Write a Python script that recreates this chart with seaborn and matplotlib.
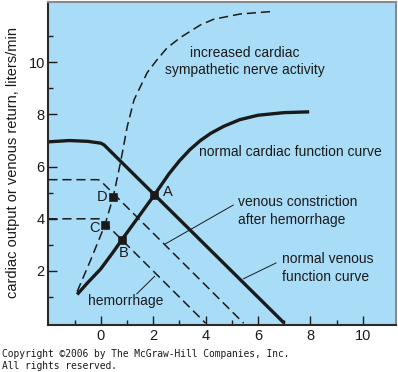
import matplotlib
matplotlib.use("Agg")
import matplotlib.pyplot as plt
import seaborn as sns
import pandas as pd

# ---------------- data ----------------
cardiac_x = [-0.9, -0.5, 0.0, 0.5, 0.8, 1.4, 2.05, 2.6, 3.0, 3.4, 3.8, 4.2, 4.7, 5.3, 6.0, 7.0, 7.95]
cardiac_y = [1.1, 1.55, 2.08, 2.76, 3.19, 4.02, 4.92, 5.72, 6.22, 6.65, 7.0, 7.28, 7.55, 7.8, 7.97, 8.07, 8.1]

symp_x = [-0.9, -0.38, 0.16, 0.48, 0.76, 1.01, 1.27, 1.77, 2.15, 2.53, 3.04, 3.8, 4.31, 5.32, 6.46]
symp_y = [1.21, 2.43, 3.77, 4.85, 6.19, 7.53, 8.56, 9.6, 10.1, 10.55, 10.95, 11.43, 11.65, 11.85, 11.94]

venous_x = [-2.0, -1.2, -0.5, 0.0, 0.13, 7.0]
venous_y = [6.95, 7.0, 6.97, 6.9, 6.83, 0.0]

hem_x = [-2.0, 0.0, 4.0]
hem_y = [4.0, 4.0, 0.0]

constr_x = [-2.0, -0.1, 0.0, 5.45]
constr_y = [5.5, 5.5, 5.45, 0.0]

point_names = ["A", "B", "C", "D"]
point_x = [2.05, 0.8, 0.16, 0.48]
point_y = [4.92, 3.19, 3.77, 4.85]

x_ticks = [0, 2, 4, 6, 8, 10]
y_ticks = [2, 4, 6, 8, 10]

ylabel = "cardiac output or venous return, liters/min"
copyright1 = "Copyright \u00a92006 by The McGraw-Hill Companies, Inc."
copyright2 = "All rights reserved."

# ---------------- style ----------------
sns.set_style("ticks")
plt.rcParams["font.family"] = ["Liberation Sans", "DejaVu Sans"]

W, H = 398, 372
fig = plt.figure(figsize=(W / 100, H / 100), dpi=100)
ax = fig.add_axes([48.3 / W, 1 - 325 / H, (395.7 - 48.3) / W, (325 - 2) / H])
ax.set_facecolor("#a9ddf7")

ink = "#1a1a1a"
thick = 2.4
thin = 1.1
dash = (0, (6, 3.2))

def line(xs, ys, lw, ls):
    df = pd.DataFrame({"x": xs, "y": ys})
    sns.lineplot(data=df, x="x", y="y", ax=ax, sort=False, estimator=None,
                 color=ink, linewidth=lw, linestyle=ls,
                 solid_capstyle="butt", dash_capstyle="butt",
                 solid_joinstyle="round")

line(venous_x, venous_y, thick, "-")
line(cardiac_x, cardiac_y, thick, "-")
line(symp_x, symp_y, thin, dash)
line(hem_x, hem_y, thin, dash)
line(constr_x, constr_y, thin, dash)

pts = pd.DataFrame({"x": point_x, "y": point_y, "name": point_names})
sns.scatterplot(data=pts, x="x", y="y", ax=ax, marker="s", s=32,
                color=ink, edgecolor=ink, zorder=5)

lab_off = {"A": (0.5, 0.1), "B": (0.07, -0.5), "C": (-0.39, -0.12), "D": (-0.44, -0.01)}
for n, px, py in zip(point_names, point_x, point_y):
    dx, dy = lab_off[n]
    ax.text(px + dx, py + dy, n, ha="center", va="center", fontsize=10.5, color=ink)

# annotations
fs = 10
ls_ = 1.35
ax.text(5.48, 10.03, "increased cardiac\nsympathetic nerve activity", ha="center",
        va="center", fontsize=fs, color=ink, linespacing=ls_)
ax.text(3.73, 6.56, "normal cardiac function curve", ha="left", va="center",
        fontsize=fs, color=ink)
ax.text(5.25, 4.30, "venous constriction\nafter hemorrhage", ha="left", va="center",
        fontsize=fs, color=ink, linespacing=ls_)
ax.text(6.92, 2.10, "normal venous\nfunction curve", ha="left", va="center",
        fontsize=fs, color=ink, linespacing=ls_)
ax.text(0.95, 0.85, "hemorrhage", ha="center", va="center", fontsize=fs, color=ink)

# leader lines
ax.plot([5.06, 2.45], [4.53, 3.03], color=ink, lw=0.7)
ax.plot([6.69, 5.44], [2.31, 1.70], color=ink, lw=0.7)
ax.plot([2.06, 1.37], [1.80, 1.12], color=ink, lw=0.7)

# axes
ax.set_xlim(-2, 11.25)
ax.set_ylim(-0.07, 12.31)
ax.set_xticks(x_ticks)
ax.set_yticks(y_ticks)
ax.set_xticks([-1, 1, 3, 5, 7, 9], minor=True)
ax.set_yticks([1, 3, 5, 7, 9, 11], minor=True)
ax.tick_params(which="major", direction="in", length=6.5, width=1.0, colors=ink,
               labelsize=10.5, pad=3)
ax.tick_params(which="minor", direction="in", length=3.6, width=1.0, colors=ink)
ax.tick_params(axis="y", which="both", pad=2.5)
ax.set_xlabel("")
ax.set_ylabel("")
for s in ["left", "bottom"]:
    ax.spines[s].set_color("#2a2a2a")
    ax.spines[s].set_linewidth(1.5)
for s in ["top", "right"]:
    ax.spines[s].set_visible(True)
    ax.spines[s].set_color("#8a8a8a")
    ax.spines[s].set_linewidth(1.5)

fig.text(13 / W, 1 - 162 / H, ylabel, rotation=90, ha="center", va="center",
         fontsize=10.5, color=ink)
fig.text(2 / W, 1 - 354 / H, copyright1, ha="left", va="center", fontsize=6.9,
         family=["DejaVu Sans Mono"], color=ink)
fig.text(2 / W, 1 - 366 / H, copyright2, ha="left", va="center", fontsize=6.9,
         family=["DejaVu Sans Mono"], color=ink)

fig.savefig("out.png", dpi=100, facecolor="white")
